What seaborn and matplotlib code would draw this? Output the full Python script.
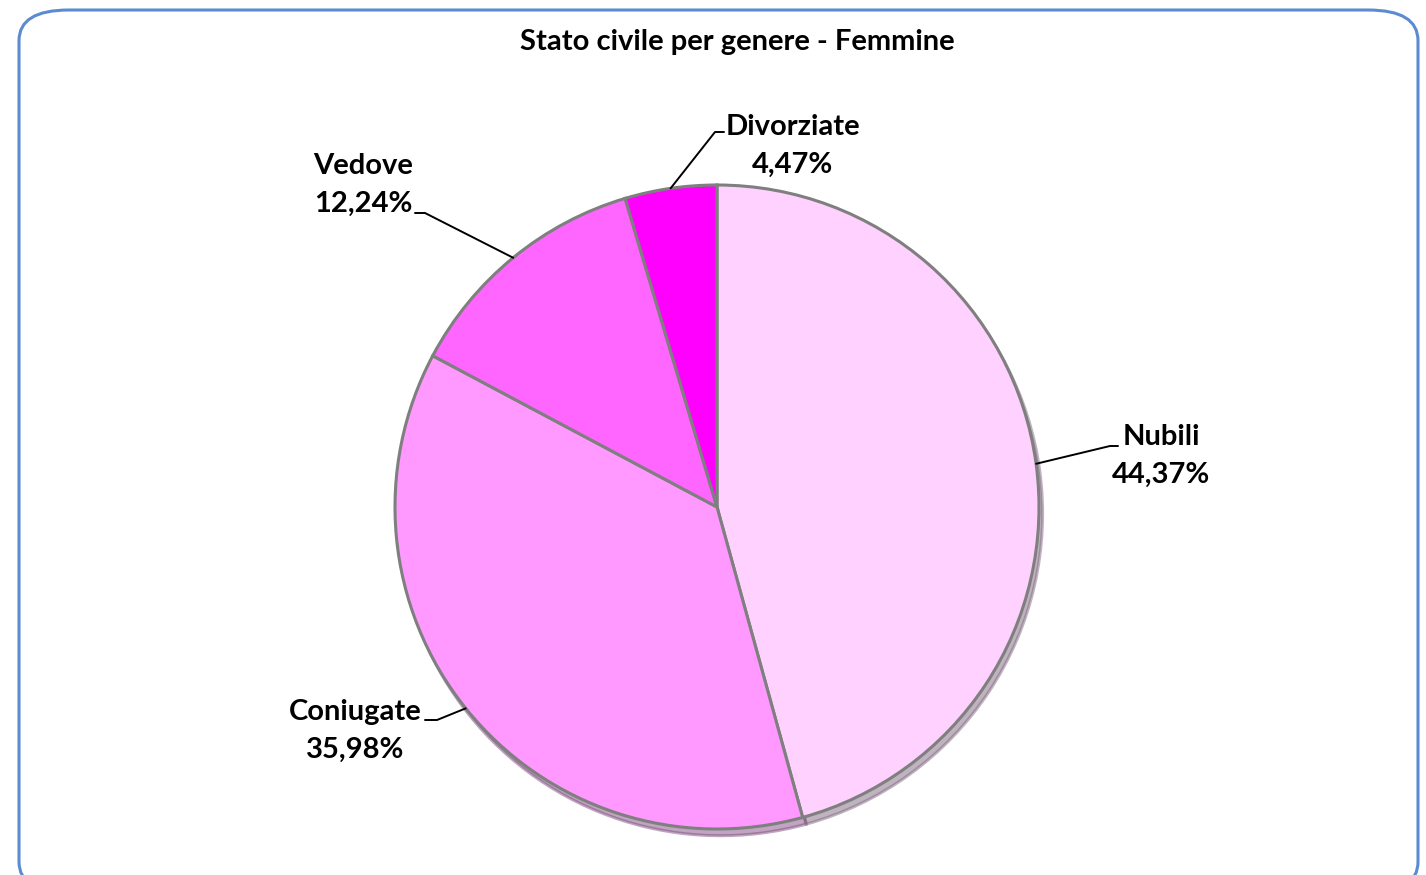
import matplotlib.pyplot as plt
import numpy as np
import seaborn as sns
from matplotlib.patches import FancyBboxPatch

categorie = ["Nubili", "Coniugate", "Vedove", "Divorziate"]
percentuali = [44.37, 35.98, 12.24, 4.47]
etichette = ["44,37%", "35,98%", "12,24%", "4,47%"]
colori = ["#FFD1FF", "#FF99FF", "#FF66FF", "#FF00FF"]

sns.set_theme(style="white")
plt.rcParams['font.family'] = ['Lato', 'DejaVu Sans']
plt.rcParams['text.color'] = 'black'

fig = plt.figure(figsize=(14.26, 8.75), dpi=100)
fig.patch.set_facecolor("white")

# rounded frame around the chart (bottom edge falls outside the picture)
top = 1 - 10/875
fig.patches.append(FancyBboxPatch((19/1426, -0.02), 1399/1426, top + 0.02,
                                  boxstyle="round,pad=0,rounding_size=0.035",
                                  transform=fig.transFigure, fill=False,
                                  edgecolor="#5B8BD0", linewidth=2.2))

fig.text(737/1426, 1 - 42/875, "Stato civile per genere - Femmine",
         ha="center", va="center", fontsize=21, fontweight="bold", color="black")

ax = fig.add_axes([0, 0, 1, 1])
R = 322.0
wedges, _ = ax.pie(percentuali, colors=colori, startangle=90, counterclock=False,
                   wedgeprops=dict(edgecolor="#7F7F7F", linewidth=2.2),
                   shadow={'ox': 0.008, 'oy': -0.015, 'shade': 0.5, 'alpha': 0.5})
ax.set_xlim(-717/R, (1426-717)/R)
ax.set_ylim(-(875-507)/R, 507/R)
ax.set_aspect("auto")
ax.axis("off")

# label positions (px in the picture) : text centre, elbow, end of leader line
testo = [(1161, 456), (355, 731), (363, 185), (793, 146)]
gomito = [(1110, 446), (437, 720), (425, 213), (715, 132)]
fine = [(1118, 446), (425, 720), (415, 213), (724, 132)]

def px(p):
    return ((p[0]-717)/R, (507-p[1])/R)

for w, cat, lab, t, g, f in zip(wedges, categorie, etichette, testo, gomito, fine):
    ang = np.deg2rad((w.theta1 + w.theta2) / 2)
    a = (np.cos(ang), np.sin(ang))
    gx, gy = px(g)
    fx, fy = px(f)
    ax.plot([a[0], gx, fx], [a[1], gy, fy], color="black", lw=1.4)
    tx, ty = px(t)
    ax.text(tx, ty, cat + "\n" + lab, ha="center", va="center", color="black",
            fontsize=21, fontweight="bold", linespacing=1.6)

fig.savefig("out.png", dpi=100)
